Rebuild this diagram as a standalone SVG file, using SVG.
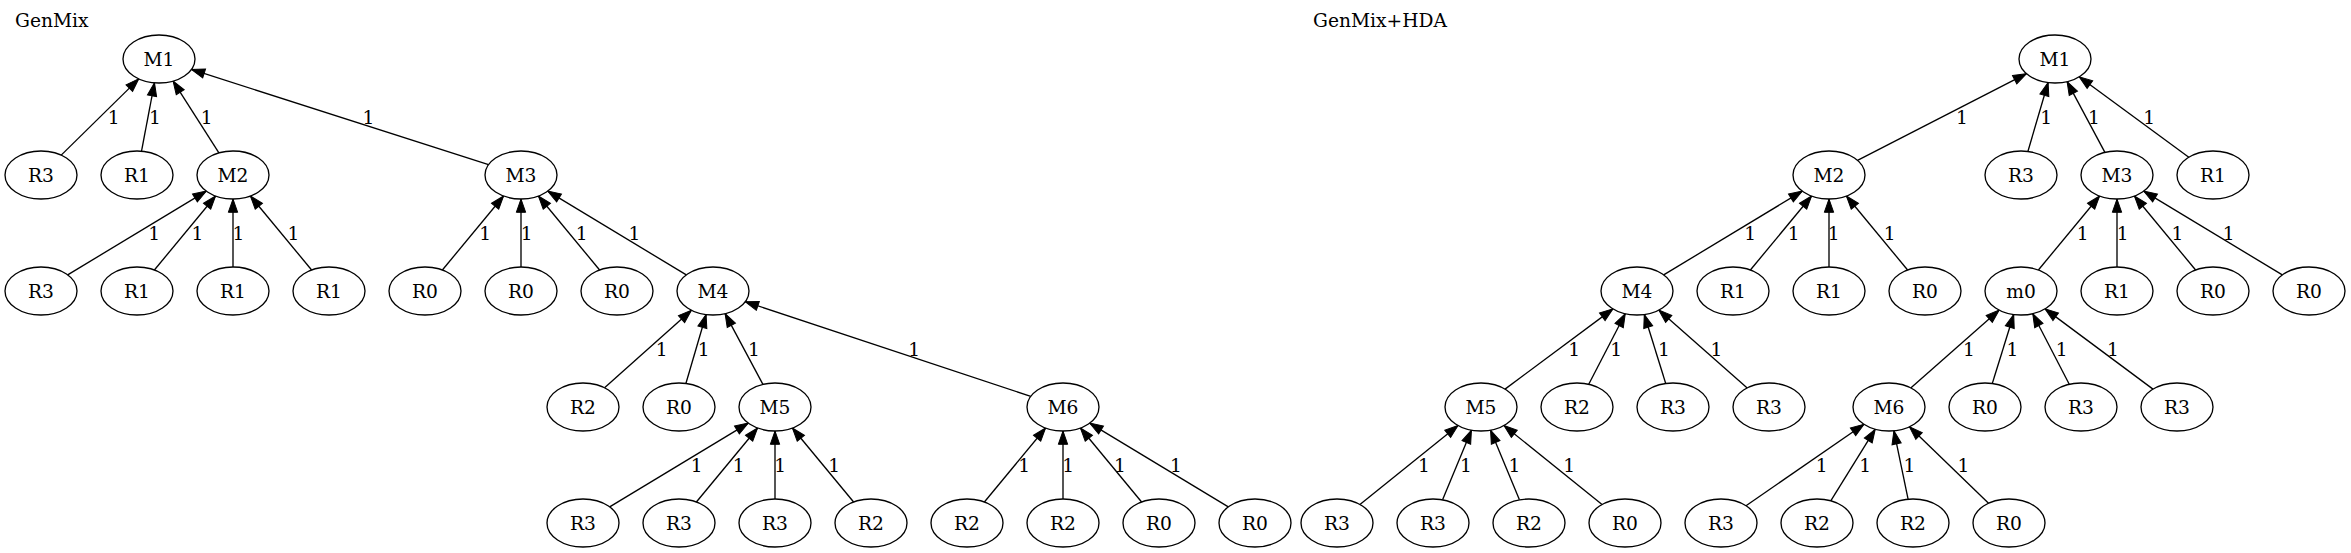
<svg xmlns="http://www.w3.org/2000/svg" width="2351" height="553" viewBox="0 0 2351 553">
<style>
.n ellipse{fill:#fff;stroke:#000;stroke-width:1.33}
text{font-family:"DejaVu Serif",serif;font-size:18.67px;fill:#000}
.n text{text-anchor:middle}
.e path{fill:none;stroke:#000;stroke-width:1.33;marker-end:url(#ah)}
.e text{text-anchor:middle}
</style>
<defs>
<marker id="ah" markerUnits="userSpaceOnUse" markerWidth="14" markerHeight="10" refX="13.3" refY="4.67" orient="auto" overflow="visible"><path d="M0,0 L13.3,4.67 L0,9.33 Z" fill="#000" stroke="#000" stroke-width="1"/></marker>
</defs>
<rect width="2351" height="553" fill="#fff"/>
<text x="15" y="26.5">GenMix</text>
<text x="1313" y="26.5">GenMix+HDA</text>
<g class="e" id="connectors">
<path d="M61.21,155.14 L138.79,78.86"/><text x="113.7" y="123.5">1</text>
<path d="M141.52,151.19 L154.48,82.81"/><text x="155" y="123.5">1</text>
<path d="M218.91,152.91 L173.09,81.09"/><text x="206.7" y="123.5">1</text>
<path d="M488.55,164.6 L191.45,69.4"/><text x="368.5" y="123.5">1</text>
<path d="M67.68,274.88 L206.32,191.12"/><text x="154.2" y="239.5">1</text>
<path d="M154.39,269.99 L215.61,196.01"/><text x="197.5" y="239.5">1</text>
<path d="M233,267 L233,199"/><text x="238.4" y="239.5">1</text>
<path d="M311.61,269.99 L250.39,196.01"/><text x="293.5" y="239.5">1</text>
<path d="M442.39,269.99 L503.61,196.01"/><text x="485.2" y="239.5">1</text>
<path d="M521,267 L521,199"/><text x="526.7" y="239.5">1</text>
<path d="M599.61,269.99 L538.39,196.01"/><text x="581.8" y="239.5">1</text>
<path d="M686.32,274.88 L547.68,191.12"/><text x="634.4" y="239.5">1</text>
<path d="M604.55,387.77 L691.45,310.23"/><text x="661.6" y="355.5">1</text>
<path d="M685.9,383.45 L706.1,314.55"/><text x="703.7" y="355.5">1</text>
<path d="M762.92,384.39 L725.08,313.61"/><text x="754" y="355.5">1</text>
<path d="M1030.76,396.32 L745.24,301.68"/><text x="914.2" y="355.5">1</text>
<path d="M609.68,506.88 L748.32,423.12"/><text x="696.6" y="471.5">1</text>
<path d="M696.39,501.99 L757.61,428.01"/><text x="738.6" y="471.5">1</text>
<path d="M775,499 L775,431"/><text x="780.3" y="471.5">1</text>
<path d="M853.61,501.99 L792.39,428.01"/><text x="834.3" y="471.5">1</text>
<path d="M984.39,501.99 L1045.61,428.01"/><text x="1024.2" y="471.5">1</text>
<path d="M1063,499 L1063,431"/><text x="1068.2" y="471.5">1</text>
<path d="M1141.61,501.99 L1080.39,428.01"/><text x="1119.9" y="471.5">1</text>
<path d="M1228.32,506.88 L1089.68,423.12"/><text x="1176" y="471.5">1</text>
<path d="M1857.53,160.36 L2026.47,73.64"/><text x="1962" y="123.5">1</text>
<path d="M2027.9,151.45 L2048.1,82.55"/><text x="2046.2" y="123.5">1</text>
<path d="M2104.92,152.39 L2067.08,81.61"/><text x="2093.9" y="123.5">1</text>
<path d="M2188.8,157.23 L2079.2,76.77"/><text x="2149.3" y="123.5">1</text>
<path d="M1663.68,274.88 L1802.32,191.12"/><text x="1750.2" y="239.5">1</text>
<path d="M1750.39,269.99 L1811.61,196.01"/><text x="1793.7" y="239.5">1</text>
<path d="M1829,267 L1829,199"/><text x="1833.7" y="239.5">1</text>
<path d="M1907.61,269.99 L1846.39,196.01"/><text x="1889.8" y="239.5">1</text>
<path d="M2038.39,269.99 L2099.61,196.01"/><text x="2082.7" y="239.5">1</text>
<path d="M2117,267 L2117,199"/><text x="2122.7" y="239.5">1</text>
<path d="M2195.61,269.99 L2134.39,196.01"/><text x="2177.4" y="239.5">1</text>
<path d="M2282.32,274.88 L2143.68,191.12"/><text x="2228.6" y="239.5">1</text>
<path d="M1505.03,389.13 L1612.97,308.87"/><text x="1574.1" y="355.5">1</text>
<path d="M1588.74,384.31 L1625.26,313.69"/><text x="1616.2" y="355.5">1</text>
<path d="M1665.71,383.5 L1644.29,314.5"/><text x="1663.9" y="355.5">1</text>
<path d="M1747.24,387.88 L1658.76,310.12"/><text x="1716.5" y="355.5">1</text>
<path d="M1910.76,387.88 L1999.24,310.12"/><text x="1969" y="355.5">1</text>
<path d="M1992.29,383.5 L2013.71,314.5"/><text x="2012.5" y="355.5">1</text>
<path d="M2069.26,384.31 L2032.74,313.69"/><text x="2061.6" y="355.5">1</text>
<path d="M2152.97,389.13 L2045.03,308.87"/><text x="2112.9" y="355.5">1</text>
<path d="M1359.95,504.51 L1458.05,425.49"/><text x="1424" y="471.5">1</text>
<path d="M1442.57,499.86 L1471.43,430.14"/><text x="1466" y="471.5">1</text>
<path d="M1519.43,499.86 L1490.57,430.14"/><text x="1514.5" y="471.5">1</text>
<path d="M1602.05,504.51 L1503.95,425.49"/><text x="1569.2" y="471.5">1</text>
<path d="M1746.01,505.73 L1863.99,424.27"/><text x="1821.7" y="471.5">1</text>
<path d="M1830.76,500.82 L1875.24,429.18"/><text x="1865.2" y="471.5">1</text>
<path d="M1908.08,499.22 L1893.92,430.78"/><text x="1909.4" y="471.5">1</text>
<path d="M1988.56,503.24 L1909.44,426.76"/><text x="1963.4" y="471.5">1</text>
</g>
<g class="n" id="a_M1"><ellipse cx="159" cy="59" rx="36" ry="24"/><text x="159" y="65.5">M1</text></g>
<g class="n" id="a_R3_1"><ellipse cx="41" cy="175" rx="36" ry="24"/><text x="41" y="181.5">R3</text></g>
<g class="n" id="a_R1_1"><ellipse cx="137" cy="175" rx="36" ry="24"/><text x="137" y="181.5">R1</text></g>
<g class="n" id="a_M2"><ellipse cx="233" cy="175" rx="36" ry="24"/><text x="233" y="181.5">M2</text></g>
<g class="n" id="a_M3"><ellipse cx="521" cy="175" rx="36" ry="24"/><text x="521" y="181.5">M3</text></g>
<g class="n" id="a_R3_2"><ellipse cx="41" cy="291" rx="36" ry="24"/><text x="41" y="297.5">R3</text></g>
<g class="n" id="a_R1_2"><ellipse cx="137" cy="291" rx="36" ry="24"/><text x="137" y="297.5">R1</text></g>
<g class="n" id="a_R1_3"><ellipse cx="233" cy="291" rx="36" ry="24"/><text x="233" y="297.5">R1</text></g>
<g class="n" id="a_R1_4"><ellipse cx="329" cy="291" rx="36" ry="24"/><text x="329" y="297.5">R1</text></g>
<g class="n" id="a_R0_1"><ellipse cx="425" cy="291" rx="36" ry="24"/><text x="425" y="297.5">R0</text></g>
<g class="n" id="a_R0_2"><ellipse cx="521" cy="291" rx="36" ry="24"/><text x="521" y="297.5">R0</text></g>
<g class="n" id="a_R0_3"><ellipse cx="617" cy="291" rx="36" ry="24"/><text x="617" y="297.5">R0</text></g>
<g class="n" id="a_M4"><ellipse cx="713" cy="291" rx="36" ry="24"/><text x="713" y="297.5">M4</text></g>
<g class="n" id="a_R2_1"><ellipse cx="583" cy="407" rx="36" ry="24"/><text x="583" y="413.5">R2</text></g>
<g class="n" id="a_R0_4"><ellipse cx="679" cy="407" rx="36" ry="24"/><text x="679" y="413.5">R0</text></g>
<g class="n" id="a_M5"><ellipse cx="775" cy="407" rx="36" ry="24"/><text x="775" y="413.5">M5</text></g>
<g class="n" id="a_M6"><ellipse cx="1063" cy="407" rx="36" ry="24"/><text x="1063" y="413.5">M6</text></g>
<g class="n" id="a_R3_3"><ellipse cx="583" cy="523" rx="36" ry="24"/><text x="583" y="529.5">R3</text></g>
<g class="n" id="a_R3_4"><ellipse cx="679" cy="523" rx="36" ry="24"/><text x="679" y="529.5">R3</text></g>
<g class="n" id="a_R3_5"><ellipse cx="775" cy="523" rx="36" ry="24"/><text x="775" y="529.5">R3</text></g>
<g class="n" id="a_R2_2"><ellipse cx="871" cy="523" rx="36" ry="24"/><text x="871" y="529.5">R2</text></g>
<g class="n" id="a_R2_3"><ellipse cx="967" cy="523" rx="36" ry="24"/><text x="967" y="529.5">R2</text></g>
<g class="n" id="a_R2_4"><ellipse cx="1063" cy="523" rx="36" ry="24"/><text x="1063" y="529.5">R2</text></g>
<g class="n" id="a_R0_5"><ellipse cx="1159" cy="523" rx="36" ry="24"/><text x="1159" y="529.5">R0</text></g>
<g class="n" id="a_R0_6"><ellipse cx="1255" cy="523" rx="36" ry="24"/><text x="1255" y="529.5">R0</text></g>
<g class="n" id="b_M1"><ellipse cx="2055" cy="59" rx="36" ry="24"/><text x="2055" y="65.5">M1</text></g>
<g class="n" id="b_M2"><ellipse cx="1829" cy="175" rx="36" ry="24"/><text x="1829" y="181.5">M2</text></g>
<g class="n" id="b_R3_1"><ellipse cx="2021" cy="175" rx="36" ry="24"/><text x="2021" y="181.5">R3</text></g>
<g class="n" id="b_M3"><ellipse cx="2117" cy="175" rx="36" ry="24"/><text x="2117" y="181.5">M3</text></g>
<g class="n" id="b_R1_1"><ellipse cx="2213" cy="175" rx="36" ry="24"/><text x="2213" y="181.5">R1</text></g>
<g class="n" id="b_M4"><ellipse cx="1637" cy="291" rx="36" ry="24"/><text x="1637" y="297.5">M4</text></g>
<g class="n" id="b_R1_2"><ellipse cx="1733" cy="291" rx="36" ry="24"/><text x="1733" y="297.5">R1</text></g>
<g class="n" id="b_R1_3"><ellipse cx="1829" cy="291" rx="36" ry="24"/><text x="1829" y="297.5">R1</text></g>
<g class="n" id="b_R0_1"><ellipse cx="1925" cy="291" rx="36" ry="24"/><text x="1925" y="297.5">R0</text></g>
<g class="n" id="b_m0"><ellipse cx="2021" cy="291" rx="36" ry="24"/><text x="2021" y="297.5">m0</text></g>
<g class="n" id="b_R1_4"><ellipse cx="2117" cy="291" rx="36" ry="24"/><text x="2117" y="297.5">R1</text></g>
<g class="n" id="b_R0_2"><ellipse cx="2213" cy="291" rx="36" ry="24"/><text x="2213" y="297.5">R0</text></g>
<g class="n" id="b_R0_3"><ellipse cx="2309" cy="291" rx="36" ry="24"/><text x="2309" y="297.5">R0</text></g>
<g class="n" id="b_M5"><ellipse cx="1481" cy="407" rx="36" ry="24"/><text x="1481" y="413.5">M5</text></g>
<g class="n" id="b_R2_1"><ellipse cx="1577" cy="407" rx="36" ry="24"/><text x="1577" y="413.5">R2</text></g>
<g class="n" id="b_R3_2"><ellipse cx="1673" cy="407" rx="36" ry="24"/><text x="1673" y="413.5">R3</text></g>
<g class="n" id="b_R3_3"><ellipse cx="1769" cy="407" rx="36" ry="24"/><text x="1769" y="413.5">R3</text></g>
<g class="n" id="b_M6"><ellipse cx="1889" cy="407" rx="36" ry="24"/><text x="1889" y="413.5">M6</text></g>
<g class="n" id="b_R0_4"><ellipse cx="1985" cy="407" rx="36" ry="24"/><text x="1985" y="413.5">R0</text></g>
<g class="n" id="b_R3_4"><ellipse cx="2081" cy="407" rx="36" ry="24"/><text x="2081" y="413.5">R3</text></g>
<g class="n" id="b_R3_5"><ellipse cx="2177" cy="407" rx="36" ry="24"/><text x="2177" y="413.5">R3</text></g>
<g class="n" id="b_R3_6"><ellipse cx="1337" cy="523" rx="36" ry="24"/><text x="1337" y="529.5">R3</text></g>
<g class="n" id="b_R3_7"><ellipse cx="1433" cy="523" rx="36" ry="24"/><text x="1433" y="529.5">R3</text></g>
<g class="n" id="b_R2_2"><ellipse cx="1529" cy="523" rx="36" ry="24"/><text x="1529" y="529.5">R2</text></g>
<g class="n" id="b_R0_5"><ellipse cx="1625" cy="523" rx="36" ry="24"/><text x="1625" y="529.5">R0</text></g>
<g class="n" id="b_R3_8"><ellipse cx="1721" cy="523" rx="36" ry="24"/><text x="1721" y="529.5">R3</text></g>
<g class="n" id="b_R2_3"><ellipse cx="1817" cy="523" rx="36" ry="24"/><text x="1817" y="529.5">R2</text></g>
<g class="n" id="b_R2_4"><ellipse cx="1913" cy="523" rx="36" ry="24"/><text x="1913" y="529.5">R2</text></g>
<g class="n" id="b_R0_6"><ellipse cx="2009" cy="523" rx="36" ry="24"/><text x="2009" y="529.5">R0</text></g>
</svg>
